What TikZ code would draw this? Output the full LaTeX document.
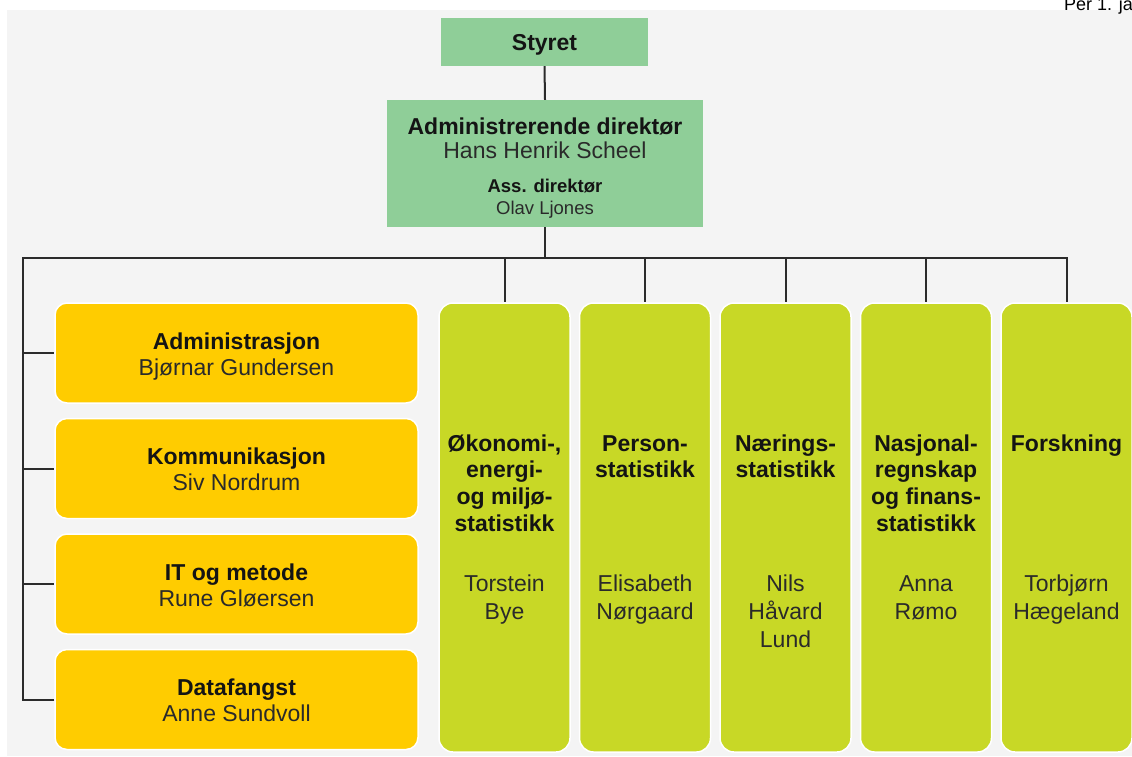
\documentclass[tikz,border=0pt]{standalone}
\usepackage{fontspec}
\setmainfont{Liberation Sans}
\definecolor{bgc}{HTML}{F4F4F4}
\definecolor{topgreen}{HTML}{8FCE98}
\definecolor{yel}{HTML}{FFCC00}
\definecolor{lime}{HTML}{C8D826}
\definecolor{linec}{HTML}{2B2B2B}
\definecolor{txt}{HTML}{141414}
\definecolor{ntxt}{HTML}{2A2A2A}
\newcommand\mytl[5]{\node[#1] (#2) at (#3,#4) {#5};}
\tikzset{
  conn/.style={draw=linec, line width=2pt},
  topbox/.style={fill=topgreen, draw=none, inner sep=0},
  ybox/.style={fill=yel, draw=white, line width=1.5pt, rounded corners=12pt, inner sep=0, minimum width=363pt, minimum height=100pt},
  gbox/.style={fill=lime, draw=white, line width=1.5pt, rounded corners=14pt, inner sep=0, minimum width=131pt, minimum height=449pt},
  bt/.style={font=\fontsize{23}{26}\selectfont\bfseries, text=txt, anchor=base, inner sep=0},
  nt/.style={font=\fontsize{23}{26}\selectfont, text=ntxt, anchor=base, inner sep=0},
  bs/.style={font=\fontsize{18.5}{21}\selectfont\bfseries, text=txt, anchor=base, inner sep=0},
  ns/.style={font=\fontsize{18.5}{21}\selectfont, text=ntxt, anchor=base, inner sep=0},
}
\begin{document}
\begin{tikzpicture}[x=1pt,y=-1pt]
\useasboundingbox (0,0) rectangle (1132,756);
\fill[bgc] (7,10) rectangle (1132,756);
\node[anchor=base west, font=\fontsize{18}{20}\selectfont, inner sep=0] (per) at (1064,10) {Per 1. ja};

% top boxes
\node[topbox, minimum width=207pt, minimum height=48pt] (styret) at (544.5,42) {};
\node[topbox, minimum width=316pt, minimum height=127pt] (ad) at (545,163.5) {};

% yellow boxes
\node[ybox] (y1) at (236.5,353) {};
\node[ybox] (y2) at (236.5,468.5) {};
\node[ybox] (y3) at (236.5,584) {};
\node[ybox] (y4) at (236.5,699.5) {};

% green columns
\node[gbox] (g1) at (504.5,527.5) {};
\node[gbox] (g2) at (645,527.5) {};
\node[gbox] (g3) at (785.5,527.5) {};
\node[gbox] (g4) at (926,527.5) {};
\node[gbox] (g5) at (1066.5,527.5) {};

% connectors
\coordinate (busL) at (22.5,258);
\draw[conn] (styret.south) -- (ad.north);
\draw[conn] (ad.south) -- (ad.south |- busL);
\draw[conn, line join=miter] (y4.west) -| (busL) -| (g5.north);
\draw[conn] (busL |- y1.west) -- (y1.west);
\draw[conn] (busL |- y2.west) -- (y2.west);
\draw[conn] (busL |- y3.west) -- (y3.west);
\draw[conn] (g1.north |- busL) -- (g1.north);
\draw[conn] (g2.north |- busL) -- (g2.north);
\draw[conn] (g3.north |- busL) -- (g3.north);
\draw[conn] (g4.north |- busL) -- (g4.north);

% top texts
\mytl{bt}{tS}{544.5}{50}{Styret}
\mytl{bt}{tA1}{545}{134}{Administrerende direktør}
\mytl{nt}{tA2}{545}{158}{Hans Henrik Scheel}
\mytl{bs}{tA3}{545}{192}{Ass. direktør}
\mytl{ns}{tA4}{545}{214}{Olav Ljones}

% yellow texts
\mytl{bt}{ty1a}{236.5}{349}{Administrasjon}
\mytl{nt}{ty1b}{236.5}{375}{Bjørnar Gundersen}
\mytl{bt}{ty2a}{236.5}{464.5}{Kommunikasjon}
\mytl{nt}{ty2b}{236.5}{490.5}{Siv Nordrum}
\mytl{bt}{ty3a}{236.5}{580}{IT og metode}
\mytl{nt}{ty3b}{236.5}{606}{Rune Gløersen}
\mytl{bt}{ty4a}{236.5}{695.5}{Datafangst}
\mytl{nt}{ty4b}{236.5}{721.5}{Anne Sundvoll}

% green texts
\mytl{bt}{tg1a}{504.5}{451}{Økonomi-,}
\mytl{bt}{tg1b}{504.5}{477.7}{energi-}
\mytl{bt}{tg1c}{504.5}{504.3}{og miljø-}
\mytl{bt}{tg1d}{504.5}{531}{statistikk}
\mytl{nt}{tg1e}{504.5}{591}{Torstein}
\mytl{nt}{tg1f}{504.5}{619}{Bye}

\mytl{bt}{tg2a}{645}{451}{Person-}
\mytl{bt}{tg2b}{645}{477.7}{statistikk}
\mytl{nt}{tg2e}{645}{591}{Elisabeth}
\mytl{nt}{tg2f}{645}{619}{Nørgaard}

\mytl{bt}{tg3a}{785.5}{451}{Nærings-}
\mytl{bt}{tg3b}{785.5}{477.7}{statistikk}
\mytl{nt}{tg3e}{785.5}{591}{Nils}
\mytl{nt}{tg3f}{785.5}{619}{Håvard}
\mytl{nt}{tg3g}{785.5}{647}{Lund}

\mytl{bt}{tg4a}{926}{451}{Nasjonal-}
\mytl{bt}{tg4b}{926}{477.7}{regnskap}
\mytl{bt}{tg4c}{926}{504.3}{og finans-}
\mytl{bt}{tg4d}{926}{531}{statistikk}
\mytl{nt}{tg4e}{926}{591}{Anna}
\mytl{nt}{tg4f}{926}{619}{Rømo}

\mytl{bt}{tg5a}{1066.5}{451}{Forskning}
\mytl{nt}{tg5e}{1066.5}{591}{Torbjørn}
\mytl{nt}{tg5f}{1066.5}{619}{Hægeland}
\end{tikzpicture}
\end{document}
